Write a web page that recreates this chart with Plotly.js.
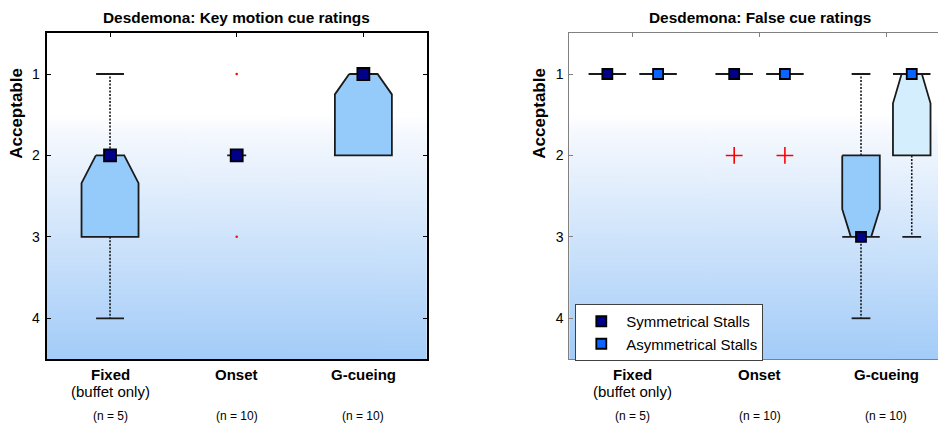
<!DOCTYPE html>
<html>
<head>
<meta charset="utf-8">
<script src="https://cdn.plot.ly/plotly-3.0.1.min.js"></script>
<style>html,body{margin:0;padding:0;background:#fff;}#chart{width:938px;height:425px;}</style>
</head>
<body>
<div id="chart"></div>
<script>
// ---------------- DATA ----------------
const categories = ['Fixed', 'Onset', 'G-cueing'];
const subLabels = ['(buffet only)', '', ''];
const nLabels = ['(n = 5)', '(n = 10)', '(n = 10)'];
const yTickVals = [1, 2, 3, 4];
const yTitle = 'Acceptable';
const titleKey = 'Desdemona: Key motion cue ratings';
const titleFalse = 'Desdemona: False cue ratings';
const seriesNames = ['Symmetrical Stalls', 'Asymmetrical Stalls'];

// Key motion cue ratings (one box per category)
const keyQ1 = [2, 2, 1];
const keyMed = [2, 2, 1];
const keyQ3 = [3, 2, 2];
const keyNotchLo = [2, 2, 1];
const keyNotchHi = [2.34, 2, 1.25];
const keyWhiskLo = [1, 2, 1];
const keyWhiskHi = [4, 2, 2];
const keyOutliers = [[], [1, 3], []];

// False cue ratings - symmetrical stalls
const symQ1 = [1, 1, 2];
const symMed = [1, 1, 3];
const symQ3 = [1, 1, 3];
const symNotchLo = [1, 1, 2.66];
const symNotchHi = [1, 1, 3];
const symWhiskLo = [1, 1, 1];
const symWhiskHi = [1, 1, 4];
const symOutliers = [[], [2], []];

// False cue ratings - asymmetrical stalls
const asymQ1 = [1, 1, 1];
const asymMed = [1, 1, 1];
const asymQ3 = [1, 1, 2];
const asymNotchLo = [1, 1, 1];
const asymNotchHi = [1, 1, 1.36];
const asymWhiskLo = [1, 1, 1];
const asymWhiskHi = [1, 1, 3];
const asymOutliers = [[], [2], []];

// ---------------- STYLE ----------------
const FONT = 'Liberation Sans, Arial, sans-serif';
const NAVY = '#000088';
const BLUE = '#0a64ff';
const FILL_DARK = '#94cbfb';
const FILL_LIGHT = '#d5eefe';
const EDGE = '#1a1a1a';

const traces = [];

function addBoxes(opt) {
  const {xaxis, yaxis, pos, q1, med, q3, nLo, nHi, wLo, wHi, outl,
         w, nw, cw, dw, fill, fullEdge, markerColor, markerSize, outStyle,
         legendName} = opt;
  const wx = [], wy = [], cx = [], cy = [], dx = [], dy = [];
  const ox = [], oy = [];
  for (let i = 0; i < pos.length; i++) {
    const x = pos[i];
    if (q3[i] > q1[i]) {
      const L = [];
      if (nLo[i] > q1[i]) { L.push([x - w, q1[i]], [x - w, nLo[i]]); }
      else if (fullEdge) { L.push([x - w, q1[i]]); }
      L.push([x - nw, med[i]]);
      if (nHi[i] < q3[i]) { L.push([x - w, nHi[i]], [x - w, q3[i]]); }
      else if (fullEdge) { L.push([x - w, q3[i]]); }
      const R = L.slice().reverse().map(p => [2 * x - p[0], p[1]]);
      const P = L.concat(R);
      P.push(P[0]);
      traces.push({
        type: 'scatter', mode: 'lines', xaxis, yaxis, showlegend: false, hoverinfo: 'skip',
        x: P.map(p => p[0]), y: P.map(p => p[1]), fill: 'toself', fillcolor: fill,
        line: {color: EDGE, width: 1.8}
      });
    } else {
      dx.push(x - dw, x + dw, null); dy.push(q1[i], q1[i], null);
    }
    if (wHi[i] > q3[i]) {
      wx.push(x, x, null); wy.push(q3[i], wHi[i], null);
      cx.push(x - cw, x + cw, null); cy.push(wHi[i], wHi[i], null);
    }
    if (wLo[i] < q1[i]) {
      wx.push(x, x, null); wy.push(q1[i], wLo[i], null);
      cx.push(x - cw, x + cw, null); cy.push(wLo[i], wLo[i], null);
    }
    outl[i].forEach(v => { ox.push(x); oy.push(v); });
  }
  traces.push({type: 'scatter', mode: 'lines', xaxis, yaxis, showlegend: false, hoverinfo: 'skip',
    x: wx, y: wy, line: {color: EDGE, width: 1.6, dash: '2px,1.5px'}});
  traces.push({type: 'scatter', mode: 'lines', xaxis, yaxis, showlegend: false, hoverinfo: 'skip',
    x: cx, y: cy, line: {color: EDGE, width: 1.8}});
  traces.push({type: 'scatter', mode: 'lines', xaxis, yaxis, showlegend: false, hoverinfo: 'skip',
    x: dx, y: dy, line: {color: EDGE, width: 1.8}});
  traces.push(Object.assign({type: 'scatter', mode: 'markers', xaxis, yaxis, showlegend: false,
    hoverinfo: 'skip', x: ox, y: oy}, outStyle));
  traces.push({type: 'scatter', mode: 'markers', xaxis, yaxis,
    name: legendName || '', showlegend: !!legendName,
    x: pos, y: med,
    marker: {symbol: 'square', size: markerSize, color: markerColor, line: {color: '#000', width: 1.8}}});
}

const basePos = categories.map((c, i) => i + 1);

addBoxes({xaxis: 'x', yaxis: 'y', pos: basePos, q1: keyQ1, med: keyMed, q3: keyQ3,
  nLo: keyNotchLo, nHi: keyNotchHi, wLo: keyWhiskLo, wHi: keyWhiskHi, outl: keyOutliers,
  w: 0.225, nw: 0.112, cw: 0.11, dw: 0.075, fill: FILL_DARK, fullEdge: false,
  markerColor: NAVY, markerSize: 12,
  outStyle: {marker: {symbol: 'circle', size: 2.5, color: '#ff0000'}}});

const OFF = 0.2;
addBoxes({xaxis: 'x2', yaxis: 'y2', pos: basePos.map(p => p - OFF), q1: symQ1, med: symMed, q3: symQ3,
  nLo: symNotchLo, nHi: symNotchHi, wLo: symWhiskLo, wHi: symWhiskHi, outl: symOutliers,
  w: 0.148, nw: 0.08, cw: 0.074, dw: 0.148, fill: FILL_DARK, fullEdge: true,
  markerColor: NAVY, markerSize: 10, legendName: seriesNames[0],
  outStyle: {marker: {symbol: 'cross-thin', size: 12, color: '#ff0000', line: {color: '#ff0000', width: 1.6}}}});
addBoxes({xaxis: 'x2', yaxis: 'y2', pos: basePos.map(p => p + OFF), q1: asymQ1, med: asymMed, q3: asymQ3,
  nLo: asymNotchLo, nHi: asymNotchHi, wLo: asymWhiskLo, wHi: asymWhiskHi, outl: asymOutliers,
  w: 0.148, nw: 0.08, cw: 0.074, dw: 0.148, fill: FILL_LIGHT, fullEdge: true,
  markerColor: BLUE, markerSize: 10, legendName: seriesNames[1],
  outStyle: {marker: {symbol: 'cross-thin', size: 12, color: '#ff0000', line: {color: '#ff0000', width: 1.6}}}});

// ---------------- LAYOUT ----------------
const W = 938, H = 425;
const px = v => v / W, py = v => 1 - v / H;
const dom1 = [px(46.7), px(426.7)];
const dom2 = [px(569.3), 1];
const ydom = [py(359), py(33.3)];

// gradient background image
function gradientURL() {
  const c = document.createElement('canvas');
  c.width = 4; c.height = 400;
  const g = c.getContext('2d');
  const lg = g.createLinearGradient(0, 0, 0, 400);
  lg.addColorStop(0, '#ffffff');
  lg.addColorStop(0.25, '#ffffff');
  lg.addColorStop(0.30, '#f6f9fe');
  lg.addColorStop(1, '#a3ccf8');
  g.fillStyle = lg; g.fillRect(0, 0, 4, 400);
  return c.toDataURL('image/png');
}
const grad = gradientURL();

function xa(domain, range, lineColor, lw) {
  return {domain, range, side: 'top', showline: true, mirror: true, linecolor: lineColor, linewidth: lw,
    ticks: 'inside', ticklen: 4, tickwidth: 1, tickcolor: lineColor, tickvals: basePos,
    showticklabels: false, showgrid: false, zeroline: false, fixedrange: true};
}
function ya(domain, anchor, lineColor, lw, mirror) {
  return {domain, anchor, range: [4.5, 0.5], showline: true, mirror, linecolor: lineColor, linewidth: lw,
    ticks: 'inside', ticklen: 4, tickwidth: 1, tickcolor: lineColor, tickvals: yTickVals,
    tickfont: {family: FONT, size: 14, color: '#000'}, showgrid: false, zeroline: false,
    ticklabelstandoff: 2, fixedrange: true};
}

const annotations = [];
annotations.push({xref: 'x', yref: 'paper', x: 2, y: py(17), text: '<b>' + titleKey + '</b>',
  showarrow: false, font: {family: FONT, size: 15.4, color: '#000'}, xanchor: 'center', yanchor: 'middle'});
annotations.push({xref: 'x2', yref: 'paper', x: 2, y: py(17), text: '<b>' + titleFalse + '</b>',
  showarrow: false, font: {family: FONT, size: 15.4, color: '#000'}, xanchor: 'center', yanchor: 'middle'});
[[px(15.8)], [px(538.8)]].forEach(a => {
  annotations.push({xref: 'paper', yref: 'paper', x: a[0], y: py(113), text: '<b>' + yTitle + '</b>',
    textangle: -90, showarrow: false, font: {family: FONT, size: 17, color: '#000'},
    xanchor: 'center', yanchor: 'middle'});
});
['x', 'x2'].forEach(ax => {
  categories.forEach((c, i) => {
    annotations.push({xref: ax, yref: 'paper', x: basePos[i], y: py(374.8), text: '<b>' + c + '</b>',
      showarrow: false, font: {family: FONT, size: 15, color: '#000'}, xanchor: 'center', yanchor: 'middle'});
    if (subLabels[i]) annotations.push({xref: ax, yref: 'paper', x: basePos[i], y: py(391), text: subLabels[i],
      showarrow: false, font: {family: FONT, size: 15, color: '#000'}, xanchor: 'center', yanchor: 'middle'});
    annotations.push({xref: ax, yref: 'paper', x: basePos[i], y: py(416), text: nLabels[i],
      showarrow: false, font: {family: FONT, size: 12, color: '#000'}, xanchor: 'center', yanchor: 'middle'});
  });
});

const layout = {
  width: W, height: H,
  margin: {l: 0, r: 0, t: 0, b: 0, pad: 0},
  paper_bgcolor: '#ffffff', plot_bgcolor: 'rgba(0,0,0,0)',
  font: {family: FONT, color: '#000'},
  xaxis: xa(dom1, [0.5, 3.5], '#000', 2),
  yaxis: ya(ydom, 'x', '#000', 2, 'ticks'),
  xaxis2: Object.assign(xa(dom2, [0.5, 3.407], '#808080', 1), {anchor: 'y2'}),
  yaxis2: ya(ydom, 'x2', '#808080', 1, false),
  images: [dom1, dom2].map(d => ({source: grad, xref: 'paper', yref: 'paper', x: d[0], y: ydom[1],
    sizex: d[1] - d[0], sizey: ydom[1] - ydom[0], xanchor: 'left', yanchor: 'top', sizing: 'stretch',
    layer: 'below'})),
  showlegend: true,
  legend: {x: px(575.3), y: py(332.5), xanchor: 'left', yanchor: 'middle', bgcolor: '#ffffff',
    bordercolor: '#404040', borderwidth: 1, font: {family: FONT, size: 15, color: '#000'},
    itemwidth: 40, tracegroupgap: 0},
  annotations
};
layout.xaxis.anchor = 'y';

Plotly.newPlot('chart', traces, layout, {displayModeBar: false, staticPlot: true});
</script>
</body>
</html>
